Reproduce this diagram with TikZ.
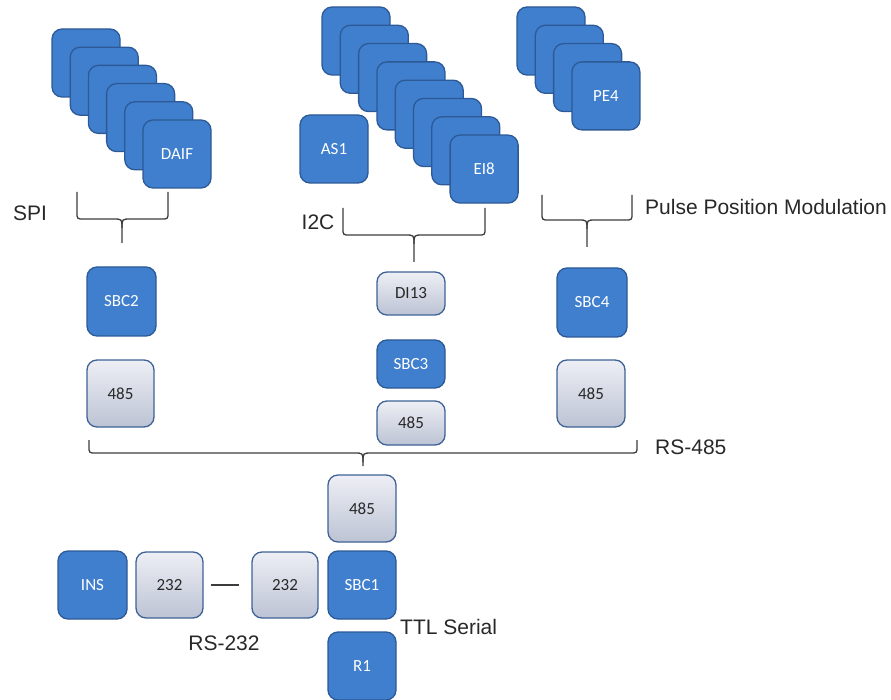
\documentclass[tikz,border=0pt]{standalone}
\usepackage{fontspec}
\setmainfont{Liberation Sans}
\newfontfamily\boxfont{Carlito}

\definecolor{unitblue}{RGB}{63,127,205}
\definecolor{unitedge}{RGB}{45,90,150}
\definecolor{ifacetop}{RGB}{238,239,245}
\definecolor{ifacebot}{RGB}{188,195,212}
\definecolor{ifaceedge}{RGB}{62,98,150}
\definecolor{inkgray}{RGB}{40,40,40}
\definecolor{bracegray}{RGB}{60,60,60}

% curly grouping brace: left x, right x, top y, bar y, centre x, tip y
\newcommand\grpbrace[6]{%
  \draw[brace] (#1,#3) -- (#1,#4-7) .. controls (#1,#4) .. (#1+7,#4)
    -- (#5-9,#4) .. controls (#5,#4) .. (#5,#4+9) -- (#5,#6);
  \draw[brace] (#2,#3) -- (#2,#4-7) .. controls (#2,#4) .. (#2-7,#4)
    -- (#5+9,#4) .. controls (#5,#4) .. (#5,#4+9);
}

\begin{document}
\begin{tikzpicture}[x=1pt,y=-1pt,
  unit/.style={draw=unitedge, fill=unitblue, line width=1.3pt,
    rounded corners=10pt, minimum width=68pt, minimum height=68pt,
    inner sep=0pt, text=white, font=\boxfont\fontsize{17}{20}\selectfont},
  iface/.style={draw=ifaceedge, top color=ifacetop, bottom color=ifacebot,
    line width=1.3pt, rounded corners=10pt, minimum width=68pt,
    minimum height=67pt, inner sep=0pt, text=inkgray,
    font=\boxfont\fontsize{17}{20}\selectfont},
  brace/.style={draw=bracegray, line width=1.3pt},
  lbl/.style={text=inkgray, inner sep=0pt, font=\fontsize{21}{24}\selectfont},
  link/.style={draw=bracegray, line width=1.3pt}]
\useasboundingbox (0,0) rectangle (891,700);

% SPI stack
\foreach \i/\t in {0/,1/,2/,3/,4/,5/DAIF}
  \node[unit] (spi\i) at ({86+18.2*\i},{63+18.2*\i}) {\t};

% I2C stack
\node[unit] (as1) at (334,149) {AS1};
\foreach \i/\t in {0/,1/,2/,3/,4/,5/,6/,7/EI8}
  \node[unit] (ic\i) at ({356+18.3*\i},{41+18.3*\i}) {\t};

% PPM stack
\foreach \i/\t in {0/,1/,2/,3/PE4}
  \node[unit] (pe\i) at ({551+18.3*\i},{41+18.3*\i}) {\t};

% group labels
\node[lbl] (spi) at (30,213) {SPI};
\node[lbl] (i2c) at (318,222) {I2C};
\node[lbl, anchor=west] (ppm) at (645,207) {Pulse Position Modulation};

\grpbrace{77}{168}{192}{219}{122}{243}
\grpbrace{343}{485}{208}{235}{414}{262}
\grpbrace{542}{632}{195}{220}{587}{247}

% left column
\node[unit, minimum width=69pt, minimum height=69pt] (sbc2) at (121.5,301.5) {SBC2};
\node[iface, minimum width=67pt] (rs485a) at (120.5,393.5) {485};

% middle column
\node[iface, minimum height=43pt] (di13) at (411,293.5) {DI13};
\node[unit, minimum height=48pt] (sbc3) at (411,364) {SBC3};
\node[iface, minimum height=44pt] (rs485b) at (411,423) {485};

% right column
\node[unit, minimum width=70pt, minimum height=69pt] (sbc4) at (592,302.5) {SBC4};
\node[iface] (rs485c) at (591,393.5) {485};

% RS-485 bus
\grpbrace{89}{637}{440}{453}{363}{466}
\node[lbl, anchor=west] (rs485) at (655,447) {RS-485};

% bottom group
\node[iface] (rs485d) at (362,508.5) {485};
\node[unit] (sbc1) at (362,585) {SBC1};
\node[unit] (r1) at (362,666) {R1};
\node[unit, minimum width=69pt] (ins) at (92.5,585) {INS};
\node[iface, minimum width=67pt, minimum height=66pt] (rs232a) at (169.5,585) {232};
\node[iface, minimum width=66pt, minimum height=66pt] (rs232b) at (285,585) {232};
\draw[link, shorten <=7pt, shorten >=12pt] (rs232a) -- (rs232b);

\node[lbl] (rs232) at (224,643) {RS-232};
\node[lbl, anchor=west] (ttl) at (400,627) {TTL Serial};
\end{tikzpicture}
\end{document}
